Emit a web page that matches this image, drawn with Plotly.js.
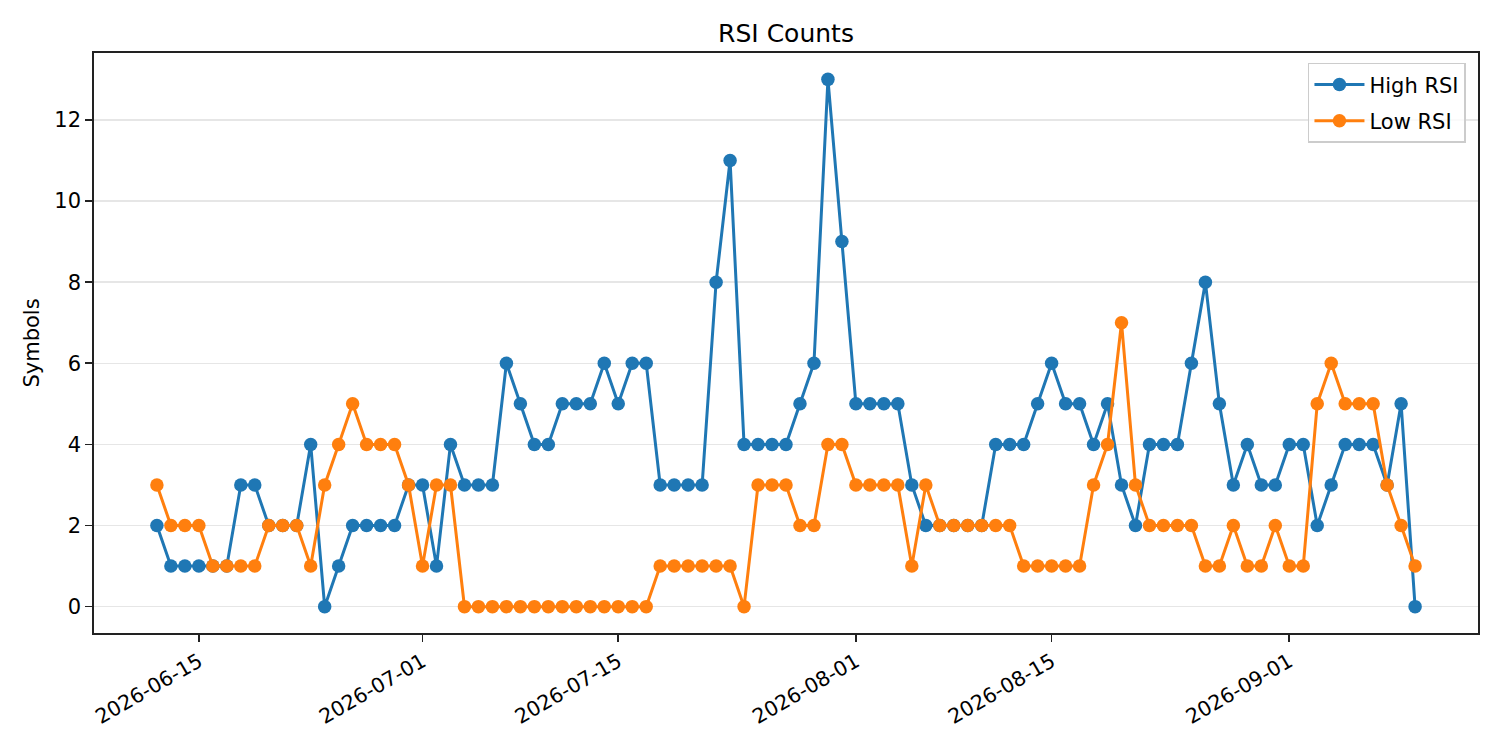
<!DOCTYPE html>
<html>
<head>
<meta charset="utf-8">
<script src="https://cdn.plot.ly/plotly-3.0.1.min.js"></script>
<style>
  html, body { margin: 0; padding: 0; background: #fff; }
  #chart { width: 1500px; height: 750px; }
</style>
</head>
<body>
<div id="chart"></div>
<script>
// daily counts, 2026-06-12 .. 2026-09-10
const startDate = '2026-06-12';
const highRsi = [
    2, 1, 1, 1, 1, 1, 3, 3, 2, 2, 2, 4, 0, 1, 2, 2, 2, 2, 3, 3,
    1, 4, 3, 3, 3, 6, 5, 4, 4, 5, 5, 5, 6, 5, 6, 6, 3, 3, 3, 3,
    8, 11, 4, 4, 4, 4, 5, 6, 13, 9, 5, 5, 5, 5, 3, 2, 2, 2, 2, 2,
    4, 4, 4, 5, 6, 5, 5, 4, 5, 3, 2, 4, 4, 4, 6, 8, 5, 3, 4, 3,
    3, 4, 4, 2, 3, 4, 4, 4, 3, 5, 0
];
const lowRsi = [
    3, 2, 2, 2, 1, 1, 1, 1, 2, 2, 2, 1, 3, 4, 5, 4, 4, 4, 3, 1,
    3, 3, 0, 0, 0, 0, 0, 0, 0, 0, 0, 0, 0, 0, 0, 0, 1, 1, 1, 1,
    1, 1, 0, 3, 3, 3, 2, 2, 4, 4, 3, 3, 3, 3, 1, 3, 2, 2, 2, 2,
    2, 2, 1, 1, 1, 1, 1, 3, 4, 7, 3, 2, 2, 2, 2, 1, 1, 2, 1, 1,
    2, 1, 1, 5, 6, 5, 5, 5, 3, 2, 1
];
const tickDates = ['2026-06-15', '2026-07-01', '2026-07-15', '2026-08-01', '2026-08-15', '2026-09-01'];
const yTicks = [0, 2, 4, 6, 8, 10, 12];

function buildDates(start, n) {
    const out = [];
    const d0 = new Date(start + 'T00:00:00Z');
    for (let i = 0; i < n; i++) {
        const d = new Date(d0.getTime() + i * 86400000);
        out.push(d.toISOString().slice(0, 10));
    }
    return out;
}

const dates = buildDates(startDate, highRsi.length);

const font = { family: 'DejaVu Sans, sans-serif', color: '#000', size: 21 };

const traces = [
    {
        type: 'scatter', mode: 'lines+markers', name: 'High RSI', legendgroup: 'high',
        x: dates, y: highRsi,
        line: { color: '#1f77b4', width: 3 },
        marker: { color: '#1f77b4', size: 13.5 }
    },
    {
        type: 'scatter', mode: 'lines+markers', name: 'Low RSI', legendgroup: 'low',
        x: dates, y: lowRsi,
        line: { color: '#ff7f0e', width: 3 },
        marker: { color: '#ff7f0e', size: 13.5 }
    }
];

const layout = {
    width: 1500,
    height: 750,
    paper_bgcolor: '#fff',
    plot_bgcolor: '#fff',
    font: font,
    margin: { l: 94, r: 22, t: 53, b: 117 },
    title: {
        text: 'RSI Counts',
        font: { family: font.family, size: 25, color: '#000' },
        xref: 'paper', x: 0.5, xanchor: 'center',
        y: 1 - 33 / 750, yanchor: 'middle'
    },
    xaxis: {
        type: 'date',
        range: ['2026-06-07 12:00', '2026-09-14 12:00'],
        tickvals: tickDates,
        ticktext: tickDates,
        tickangle: -30,
        ticks: 'outside', ticklen: 7, tickwidth: 1.7, tickcolor: '#222',
        showline: true, linecolor: '#222', linewidth: 1.7, mirror: true,
        showgrid: false, zeroline: false,
        tickfont: { family: font.family, size: 20.5, color: '#000' }
    },
    yaxis: {
        range: [-0.65, 13.65],
        tickvals: yTicks,
        ticks: 'outside', ticklen: 7, tickwidth: 1.7, tickcolor: '#222',
        showline: true, linecolor: '#222', linewidth: 1.7, mirror: true,
        showgrid: true, gridcolor: '#e6e6e6', gridwidth: 1.5,
        zeroline: false,
        tickfont: { family: font.family, size: 21, color: '#000' },
        title: { text: 'Symbols', font: { family: font.family, size: 21, color: '#000' }, standoff: 9 }
    },
    legend: {
        x: 0.9913, xanchor: 'right',
        y: 0.983, yanchor: 'top',
        bgcolor: 'rgba(255,255,255,0.8)',
        bordercolor: '#cccccc', borderwidth: 1.5,
        font: { family: font.family, size: 21, color: '#000' },
        itemwidth: 50,
        tracegroupgap: 6
    },
    showlegend: true
};

Plotly.newPlot('chart', traces, layout, { displayModeBar: false, staticPlot: true });
</script>
</body>
</html>
